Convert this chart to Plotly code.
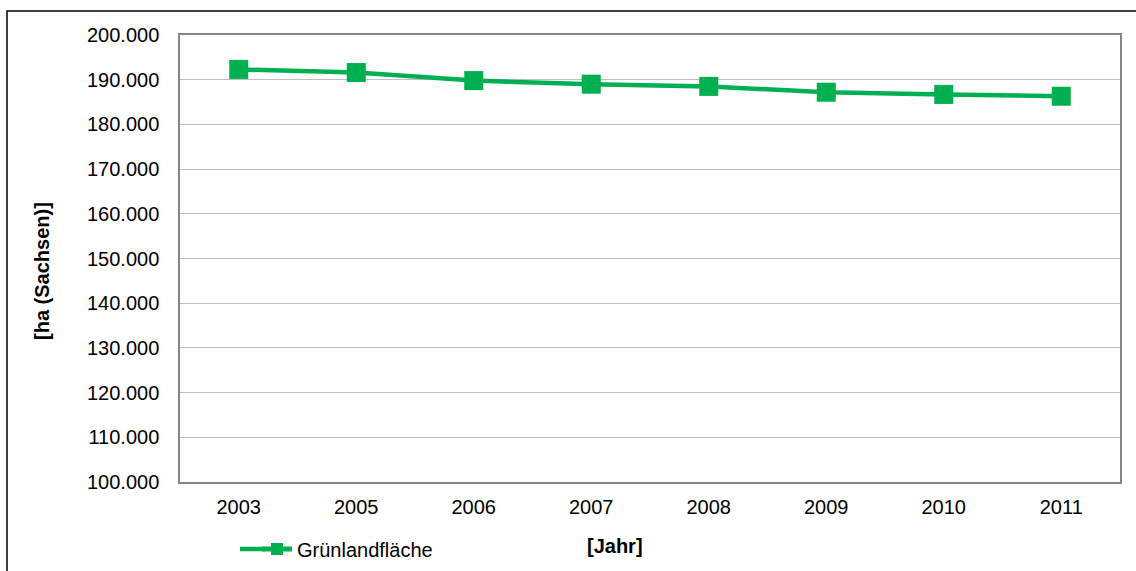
import plotly.graph_objects as go

years = ["2003", "2005", "2006", "2007", "2008", "2009", "2010", "2011"]
gruenland_ha = [192300, 191600, 189800, 189000, 188500, 187200, 186700, 186300]
y_ticks = [100000, 110000, 120000, 130000, 140000, 150000, 160000, 170000, 180000, 190000, 200000]
y_tick_labels = ["100.000", "110.000", "120.000", "130.000", "140.000", "150.000",
                 "160.000", "170.000", "180.000", "190.000", "200.000"]

GREEN = "#00B050"
FONT = "Liberation Sans, Arial, sans-serif"
FS = 20

W, H = 1136, 571
ML, MR, MT, MB = 180, 16, 35, 89
PW, PH = W - ML - MR, H - MT - MB

def px_x(x):
    return (x - ML) / PW

def px_y(y):
    return (H - MB - y) / PH

fig = go.Figure()
fig.add_trace(go.Scatter(
    x=years, y=gruenland_ha, mode="lines+markers", name="Grünlandfläche",
    line=dict(color=GREEN, width=4.5),
    marker=dict(symbol="square", size=19, color=GREEN),
))

fig.update_layout(
    width=W, height=H,
    margin=dict(l=ML, r=MR, t=MT, b=MB, autoexpand=False),
    paper_bgcolor="white", plot_bgcolor="white",
    font=dict(family=FONT, size=FS, color="#000000"),
    showlegend=True,
    legend=dict(x=px_x(257), y=px_y(549), xanchor="left", yanchor="middle",
                bgcolor="rgba(0,0,0,0)", font=dict(size=FS), itemsizing="constant"),
    xaxis=dict(type="category", range=[-0.5, 7.5], showgrid=False,
               showline=True, linecolor="#868686", linewidth=1.5, mirror=True,
               ticks="", ticklabelstandoff=6, tickfont=dict(size=FS)),
    yaxis=dict(range=[100000, 200000], tickvals=y_ticks, ticktext=y_tick_labels,
               showgrid=True, gridcolor="#BFBFBF", gridwidth=1,
               showline=True, linecolor="#868686", linewidth=1.5, mirror=True,
               ticks="", ticklabelstandoff=15, tickfont=dict(size=FS), zeroline=False),
    annotations=[
        dict(text="<b>[Jahr]</b>", x=px_x(615), y=px_y(546), xref="paper", yref="paper",
             showarrow=False, xanchor="center", yanchor="middle", font=dict(size=FS)),
        dict(text="<b>[ha (Sachsen)]</b>", x=px_x(42), y=px_y(271), xref="paper", yref="paper",
             showarrow=False, xanchor="center", yanchor="middle", textangle=-90,
             font=dict(size=FS)),
    ],
    shapes=[
        dict(type="rect", xref="paper", yref="paper",
             x0=px_x(7), x1=px_x(1150), y0=px_y(11), y1=px_y(600),
             line=dict(color="#000000", width=1.5), fillcolor="rgba(0,0,0,0)", layer="below"),
        # lengthen the legend's line sample to the left
        dict(type="line", xref="paper", yref="paper",
             x0=px_x(240), x1=px_x(266), y0=px_y(549), y1=px_y(549),
             line=dict(color=GREEN, width=4.5)),
    ],
)

fig.write_html("out.html")
